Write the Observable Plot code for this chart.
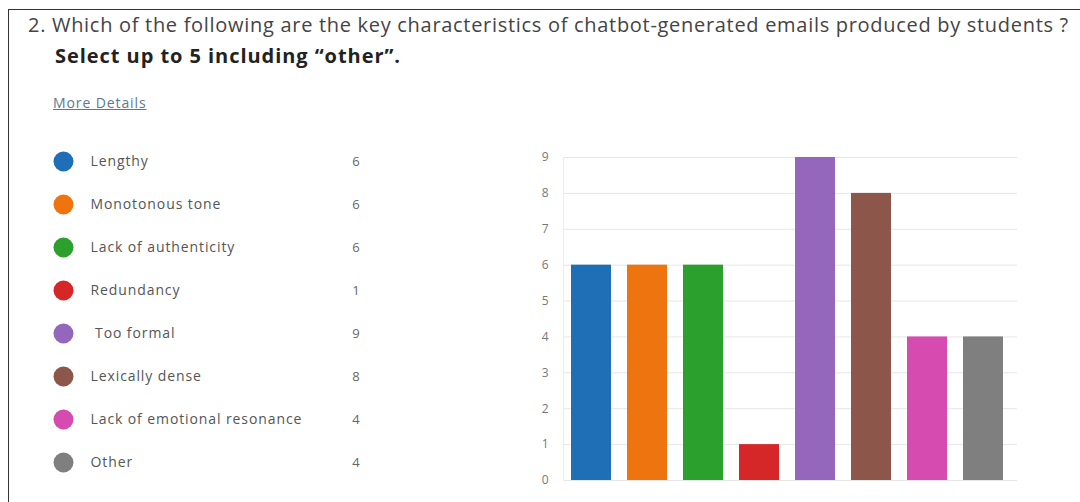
<!DOCTYPE html>
<html>
<head>
<meta charset="utf-8">
<script src="https://cdn.jsdelivr.net/npm/d3@7"></script>
<script src="https://cdn.jsdelivr.net/npm/@observablehq/plot@0.6"></script>
<style>
  html, body { margin: 0; padding: 0; background: #fff; }
  body { width: 1080px; height: 502px; position: relative; overflow: hidden; font-family: "Open Sans", "Noto Sans", sans-serif; }
  #frame { position: absolute; left: 8px; top: 9px; width: 1080px; height: 600px; border-left: 1.5px solid #333; border-top: 1.5px solid #333; }
  #q { position: absolute; left: 28px; top: 11px; font-size: 20px; color: #444; white-space: nowrap; letter-spacing: 0.7px; }
  #sel { position: absolute; left: 55px; top: 42px; font-size: 20px; font-weight: bold; color: #222; white-space: nowrap; letter-spacing: 0.95px; }
  #more { position: absolute; left: 53px; top: 93px; font-size: 14px; color: #60788f; text-decoration: underline; white-space: nowrap; letter-spacing: 0.9px; }
  #legend { position: absolute; left: 0; top: 130px; }
  #chart { position: absolute; left: 500px; top: 140px; }
</style>
</head>
<body>
<div id="frame"></div>
<div id="q">2. Which of the following are the key characteristics of chatbot-generated emails produced by students ?</div>
<div id="sel">Select up to 5 including “other”.</div>
<div id="more">More Details</div>
<div id="legend"></div>
<div id="chart"></div>
<script>
const categories = ["Lengthy", "Monotonous tone", "Lack of authenticity", "Redundancy", " Too formal", "Lexically dense", "Lack of emotional resonance", "Other"];
const counts = [6, 6, 6, 1, 9, 8, 4, 4];
const colors = ["#1f6fb6", "#ee7410", "#2ca02c", "#d62728", "#9467bd", "#8c564b", "#d64bb0", "#7f7f7f"];
const yTicks = [0, 1, 2, 3, 4, 5, 6, 7, 8, 9];

const data = categories.map((c, i) => ({cat: c, count: counts[i]}));

const legend = Plot.plot({
  width: 420,
  height: 360,
  margin: 0,
  style: {fontFamily: "'Open Sans', 'Noto Sans', sans-serif", background: "transparent", letterSpacing: "0.9px"},
  y: {type: "point", domain: categories, range: [28, 335], padding: 0, axis: null},
  color: {domain: categories, range: colors},
  marks: [
    Plot.dot(data, {y: "cat", frameAnchor: "left", dx: 63, r: 10, fill: "cat", stroke: null}),
    Plot.text(data, {y: "cat", text: "cat", frameAnchor: "left", dx: 90, textAnchor: "start", fontSize: 14, fill: "#555"}),
    Plot.text(data, {y: "cat", text: d => String(d.count), frameAnchor: "left", dx: 356, textAnchor: "middle", fontSize: 13, fill: "#666"})
  ]
});
document.getElementById("legend").appendChild(legend);

const chart = Plot.plot({
  width: 540,
  height: 360,
  marginTop: 17,
  marginBottom: 20,
  marginLeft: 63,
  marginRight: 23,
  style: {fontFamily: "'Open Sans', 'Noto Sans', sans-serif", background: "transparent", fontSize: "12px"},
  x: {type: "band", domain: categories, range: [63, 511], paddingInner: 0.28, paddingOuter: 0.14, axis: null},
  y: {domain: [0, 9], ticks: yTicks, tickSize: 0, tickPadding: 15, label: null, tickFormat: d3.format("d")},
  color: {domain: categories, range: colors},
  marks: [
    Plot.gridY(yTicks, {stroke: "#e6e6e6", strokeOpacity: 1}),
    Plot.frame({anchor: "left", stroke: "#ececec"}),
    Plot.axisY(yTicks, {tickSize: 0, tickPadding: 15, label: null, fill: "#777", fontSize: 12}),
    Plot.barY(data, {x: "cat", y: "count", fill: "cat"})
  ]
});
document.getElementById("chart").appendChild(chart);
</script>
</body>
</html>
